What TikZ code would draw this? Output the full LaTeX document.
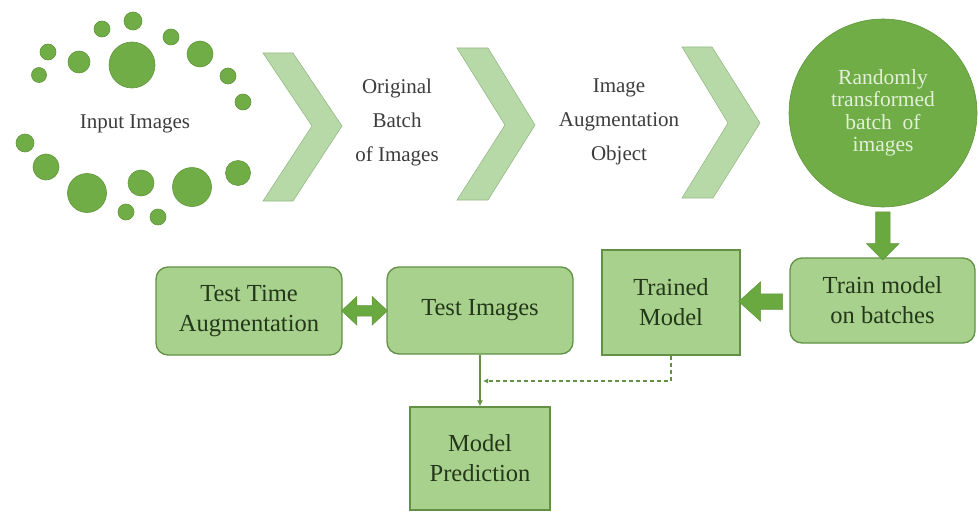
\documentclass[tikz,border=0pt]{standalone}
\usepackage{fontspec}
\setmainfont{Liberation Serif}
\usetikzlibrary{shapes.arrows,arrows.meta,calc}
\definecolor{dotgreen}{RGB}{112,173,71}
\definecolor{dotedge}{RGB}{96,150,60}
\definecolor{chev}{RGB}{183,217,168}
\definecolor{chevedge}{RGB}{150,185,135}
\definecolor{boxfill}{RGB}{169,209,142}
\definecolor{boxedge}{RGB}{98,145,70}
\definecolor{boxtext}{RGB}{35,55,25}
\definecolor{lbltext}{RGB}{60,60,60}
\definecolor{circtext}{RGB}{226,240,217}
\definecolor{arrowgreen}{RGB}{106,168,64}
\begin{document}
\begin{tikzpicture}[x=1pt,y=-1pt,
  dot/.style={fill=dotgreen,draw=dotedge,line width=0.6pt},
  chevron/.style={fill=chev,draw=chevedge,line width=0.6pt},
  lbl/.style={align=center,text=lbltext,font=\fontsize{21}{34}\selectfont},
  rbox/.style={draw=boxedge,fill=boxfill,line width=1.3pt,rounded corners=12pt,align=center,text=boxtext,font=\fontsize{24.5}{30}\selectfont,inner sep=0pt},
  sbox/.style={draw=boxedge,fill=boxfill,line width=1.3pt,align=center,text=boxtext,font=\fontsize{24.5}{30}\selectfont,inner sep=0pt},
  blockarrow/.style={single arrow,fill=arrowgreen,draw=dotedge,line width=0.5pt,single arrow head indent=0pt},
  dblarrow/.style={double arrow,fill=arrowgreen,draw=dotedge,line width=0.5pt,double arrow head indent=0pt}
]
\useasboundingbox (0,0) rectangle (979,511);
% input image dots
\foreach \x/\y/\r in {48/52/8, 39/75/7.5, 79/62/11, 102/29/8, 133/21/9, 132/65/23, 171/37/8, 200/54/13, 228/76/8, 243/102/8,
  25/143/9, 46/167/13, 87/193/19.5, 126/212/8, 141/183/13, 158/217/8, 192/187/19.5, 238/173/12.5}
  \path[dot] (\x,\y) circle[radius=\r];
\node[lbl] (input) at (135,124) {Input Images};
% chevrons
\path[chevron] (263,53) -- (293,53) -- (342,126) -- (293,201) -- (263,201) -- (312,126) -- cycle;
\path[chevron] (457,48) -- (488,48) -- (535,125) -- (488,200) -- (457,200) -- (505,125) -- cycle;
\path[chevron] (682,47) -- (712,47) -- (760,123) -- (713,198) -- (682,198) -- (728,123) -- cycle;
\node[lbl] (orig) at (397,122) {Original\\Batch\\of Images};
\node[lbl] (aug) at (619,122) {Image\\Augmentation\\Object};
% big circle
\node[circle,fill=dotgreen,draw=dotedge,line width=0.6pt,minimum size=188pt,inner sep=0pt,align=center,
  text=circtext,font=\fontsize{21.5}{22.5}\selectfont] (rand) at (883,113) {Randomly\\transformed\\batch\ \ of\\images};
% boxes
\node[rbox,minimum width=185pt,minimum height=85pt] (train) at (882.5,300.5) {Train model\\on batches};
\node[sbox,minimum width=138pt,minimum height=105pt] (trained) at (671,302.5) {Trained\\Model};
\node[rbox,minimum width=186pt,minimum height=87pt] (test) at (480,310.5) {Test Images};
\node[rbox,minimum width=186pt,minimum height=88pt] (tta) at (249,311) {Test Time\\Augmentation};
\node[sbox,minimum width=140pt,minimum height=103pt] (pred) at (480,458.5) {Model\\Prediction};
% block arrows
\path (rand.south) -- node[blockarrow,rotate=-90,minimum height=48pt,inner sep=7pt,single arrow head extend=9pt]{} (train.north);
\path (train.west) -- node[blockarrow,rotate=180,minimum height=44pt,inner sep=7.5pt,single arrow head extend=12pt,single arrow tip angle=84]{} (trained.east);
\path (tta.east) -- node[dblarrow,minimum height=46pt,inner sep=5pt,double arrow head extend=9pt,double arrow tip angle=86]{} (test.west);
% connectors
\coordinate (join) at (483,381);
\draw[draw=boxedge,line width=1.6pt,-{Latex[length=6pt,width=6pt]}] (test.south) -- (pred.north);
\draw[draw=boxedge,line width=1.4pt,dash pattern=on 4pt off 3pt,-{Latex[length=5pt,width=5pt]}] (trained.south) |- (join);
\end{tikzpicture}
\end{document}
